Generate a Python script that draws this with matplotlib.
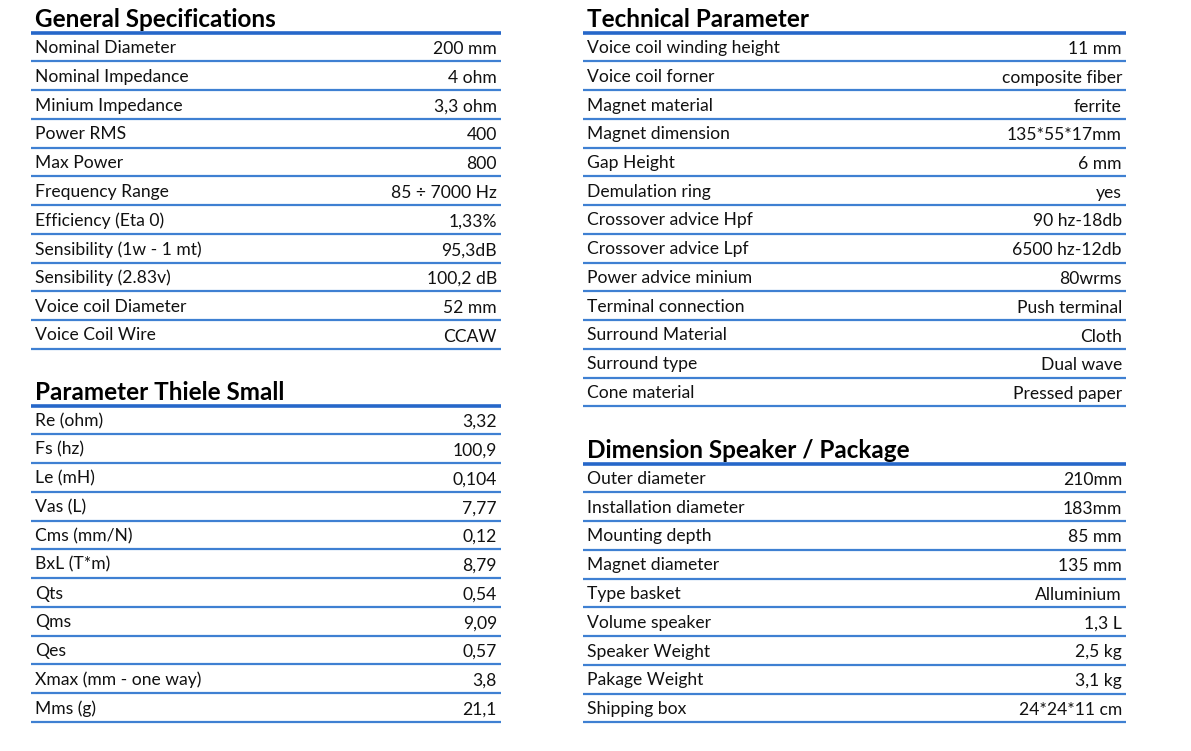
import matplotlib.pyplot as plt

plt.rcParams['font.family'] = ['Lato', 'DejaVu Sans']

# table contents
general_labels = ["Nominal Diameter", "Nominal Impedance", "Minium Impedance", "Power RMS",
                  "Max Power", "Frequency Range", "Efficiency (Eta 0)", "Sensibility (1w - 1 mt)",
                  "Sensibility (2.83v)", "Voice coil Diameter", "Voice Coil Wire"]
general_values = ["200 mm", "4 ohm", "3,3 ohm", "400", "800", "85 \u00f7 7000 Hz", "1,33%",
                  "95,3dB", "100,2 dB", "52 mm", "CCAW"]

ts_labels = ["Re (ohm)", "Fs (hz)", "Le (mH)", "Vas (L)", "Cms (mm/N)", "BxL (T*m)", "Qts",
             "Qms", "Qes", "Xmax (mm - one way)", "Mms (g)"]
ts_values = ["3,32", "100,9", "0,104", "7,77", "0,12", "8,79", "0,54", "9,09", "0,57", "3,8", "21,1"]

tech_labels = ["Voice coil winding height", "Voice coil forner", "Magnet material",
               "Magnet dimension", "Gap Height", "Demulation ring", "Crossover advice Hpf",
               "Crossover advice Lpf", "Power advice minium", "Terminal connection",
               "Surround Material", "Surround type", "Cone material"]
tech_values = ["11 mm", "composite fiber", "ferrite", "135*55*17mm", "6 mm", "yes",
               "90 hz-18db", "6500 hz-12db", "80wrms", "Push terminal", "Cloth", "Dual wave",
               "Pressed paper"]

dim_labels = ["Outer diameter", "Installation diameter", "Mounting depth", "Magnet diameter",
              "Type basket", "Volume speaker", "Speaker Weight", "Pakage Weight", "Shipping box"]
dim_values = ["210mm", "183mm", "85 mm", "135 mm", "Alluminium", "1,3 L", "2,5 kg", "3,1 kg",
              "24*24*11 cm"]

W, H = 1191, 751
fig = plt.figure(figsize=(W / 100, H / 100), dpi=100)
ax = fig.add_axes([0, 0, 1, 1])
ax.set_xlim(0, W)
ax.set_ylim(H, 0)
ax.axis('off')

ROW = 28.75
THICK = "#2667c9"
THIN = "#3f80d2"


def draw_table(title, labels, values, x0, x1, title_y):
    ax.text(x0 + 4, title_y + 1.5, title, fontsize=17.5, fontweight='bold', va='center',
            ha='left', color='black')
    line_y = title_y + 14.5
    ax.plot([x0, x1], [line_y, line_y], color=THICK, lw=2.6, solid_capstyle='butt')
    for i, (lab, val) in enumerate(zip(labels, values)):
        yc = line_y + ROW * i + 15.5
        ax.text(x0 + 4, yc, lab, fontsize=12.6, va='center', ha='left', color='#111111')
        ax.text(x1 - 4, yc + 1, val, fontsize=12.6, va='center', ha='right', color='#111111')
        ly = line_y + ROW * (i + 1)
        ax.plot([x0, x1], [ly, ly], color=THIN, lw=1.6, solid_capstyle='butt')


draw_table("General Specifications", general_labels, general_values, 31, 501, 18)
draw_table("Parameter Thiele Small", ts_labels, ts_values, 31, 501, 391)
draw_table("Technical Parameter", tech_labels, tech_values, 583, 1126, 18)
draw_table("Dimension Speaker / Package", dim_labels, dim_values, 583, 1126, 449)

fig.savefig("out.png", dpi=100, facecolor='white')
